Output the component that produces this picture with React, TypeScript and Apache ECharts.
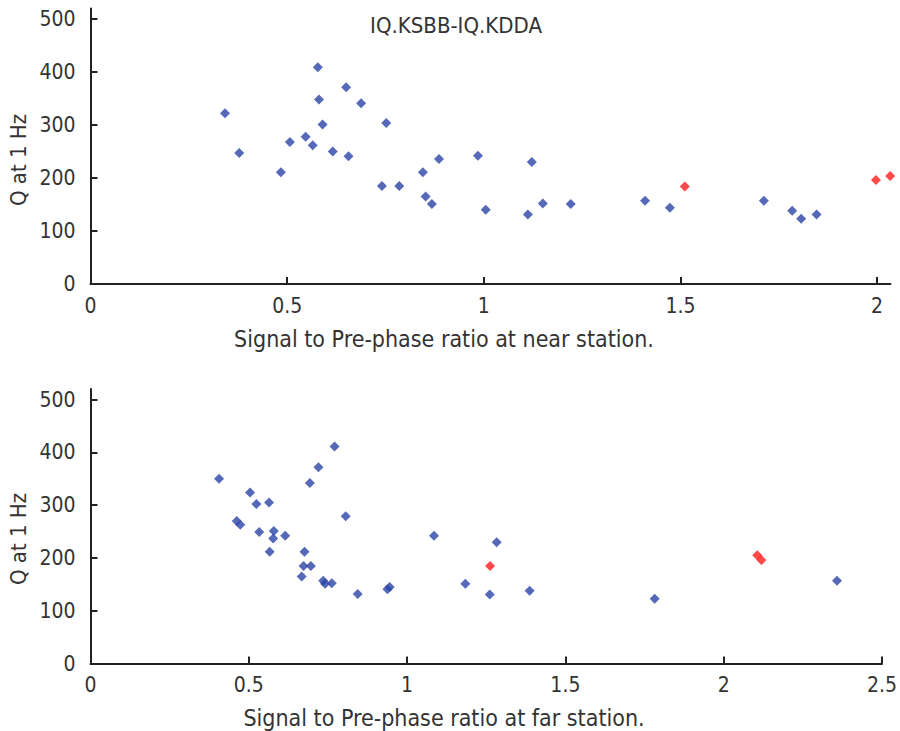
import React, { useEffect, useRef } from "react";
import * as echarts from "echarts";

// Top panel: near station ratio vs Q
const nearBlueX = [0.342, 0.378, 0.484, 0.507, 0.547, 0.565, 0.578, 0.581, 0.590, 0.616, 0.650, 0.656, 0.688, 0.752, 0.741, 0.785, 0.845, 0.852, 0.868, 0.886, 0.985, 1.005, 1.112, 1.122, 1.150, 1.221, 1.410, 1.473, 1.712, 1.784, 1.807, 1.846];
const nearBlueQ = [322, 247, 211, 268, 278, 262, 409, 348, 301, 250, 371, 241, 341, 304, 185, 185, 211, 165, 151, 236, 242, 140, 131, 230, 152, 151, 157, 144, 157, 138, 123, 131];
const nearRedX = [1.511, 1.997, 2.033];
const nearRedQ = [184, 196, 204];

// Bottom panel: far station ratio vs Q
const farBlueX = [0.406, 0.462, 0.473, 0.504, 0.524, 0.533, 0.564, 0.566, 0.579, 0.577, 0.615, 0.676, 0.673, 0.696, 0.667, 0.693, 0.720, 0.771, 0.806, 0.735, 0.741, 0.762, 0.844, 0.938, 0.945, 1.085, 1.184, 1.261, 1.283, 1.387, 1.782, 2.358];
const farBlueQ = [350, 270, 263, 324, 302, 249, 305, 212, 251, 237, 242, 212, 185, 185, 165, 342, 372, 411, 279, 157, 151, 152, 132, 141, 145, 242, 151, 131, 230, 138, 123, 157];
const farRedX = [1.262, 2.106, 2.119];
const farRedQ = [185, 205, 196];

const nearXTicks = [0, 0.5, 1, 1.5, 2];
const farXTicks = [0, 0.5, 1, 1.5, 2, 2.5];
const qTicks = [0, 100, 200, 300, 400, 500];

const titleText = "IQ.KSBB-IQ.KDDA";
const yTitle = "Q at 1 Hz";
const nearXTitle = "Signal to Pre-phase ratio at near station.";
const farXTitle = "Signal to Pre-phase ratio at far station.";

const FONT = "'DejaVu Sans Condensed', 'Lato', sans-serif";
const TXT = "#333";
const BLUE = "#2b43a6";
const RED = "#ff1a1a";

const zip = (xs: number[], ys: number[]) => xs.map((x, i) => [x, ys[i]]);

export default function App() {
  const ref = useRef<HTMLDivElement>(null);
  useEffect(() => {
    if (!ref.current) return;
    const chart = echarts.init(ref.current, null, { renderer: "svg" });
    const axisLine = { show: true, lineStyle: { color: "#222", width: 2 } };
    const axisTick = (vals: number[]) => ({
      show: true,
      inside: true,
      length: 7,
      lineStyle: { color: "#222", width: 2 },
      customValues: vals,
    });
    const label = (vals: number[], margin: number) => ({
      color: TXT,
      fontFamily: FONT,
      fontSize: 21,
      margin,
      customValues: vals,
    });
    const mkX = (idx: number, max: number, ticks: number[]) => ({
      type: "value",
      gridIndex: idx,
      min: 0,
      max,
      axisLine,
      axisTick: axisTick(ticks),
      axisLabel: label(ticks, 11),
      splitLine: { show: false },
    });
    const mkY = (idx: number) => ({
      type: "value",
      gridIndex: idx,
      min: 0,
      max: 520,
      axisLine,
      axisTick: axisTick(qTicks),
      axisLabel: label(qTicks, 15),
      splitLine: { show: false },
    });
    const sc = (name: string, x: number, data: number[][], color: string) => ({
      type: "scatter",
      name,
      xAxisIndex: x,
      yAxisIndex: x,
      data,
      symbol: "diamond",
      symbolSize: 10,
      itemStyle: { color },
    });
    const txt = (text: string, x: number, y: number, size: number, rotation = 0) => ({
      type: "text",
      x,
      y,
      rotation,
      style: {
        text,
        fill: TXT,
        font: `${size}px ${FONT}`,
        align: "center",
        verticalAlign: "middle",
      },
    });
    chart.setOption({
      animation: false,
      backgroundColor: "#fff",
      grid: [
        { left: 90.5, right: 9.5, top: 8.4, height: 275.6, containLabel: false },
        { left: 90.5, right: 9.5, top: 389, height: 274.6, containLabel: false },
      ],
      xAxis: [mkX(0, 2.034, nearXTicks), mkX(1, 2.5, farXTicks)],
      yAxis: [mkY(0), mkY(1)],
      series: [
        sc("near", 0, zip(nearBlueX, nearBlueQ), BLUE),
        sc("near-red", 0, zip(nearRedX, nearRedQ), RED),
        sc("far", 1, zip(farBlueX, farBlueQ), BLUE),
        sc("far-red", 1, zip(farRedX, farRedQ), RED),
      ],
      graphic: [
        txt(titleText, 456, 25, 22),
        txt(yTitle, 18, 160, 22, Math.PI / 2),
        txt(yTitle, 18, 539, 22, Math.PI / 2),
        txt(nearXTitle, 444, 339, 23),
        txt(farXTitle, 444, 718, 23),
      ],
    });
    return () => chart.dispose();
  }, []);
  return (
    <div
      ref={ref}
      style={{ position: "fixed", left: 0, top: 0, width: 900, height: 731 }}
    />
  );
}
